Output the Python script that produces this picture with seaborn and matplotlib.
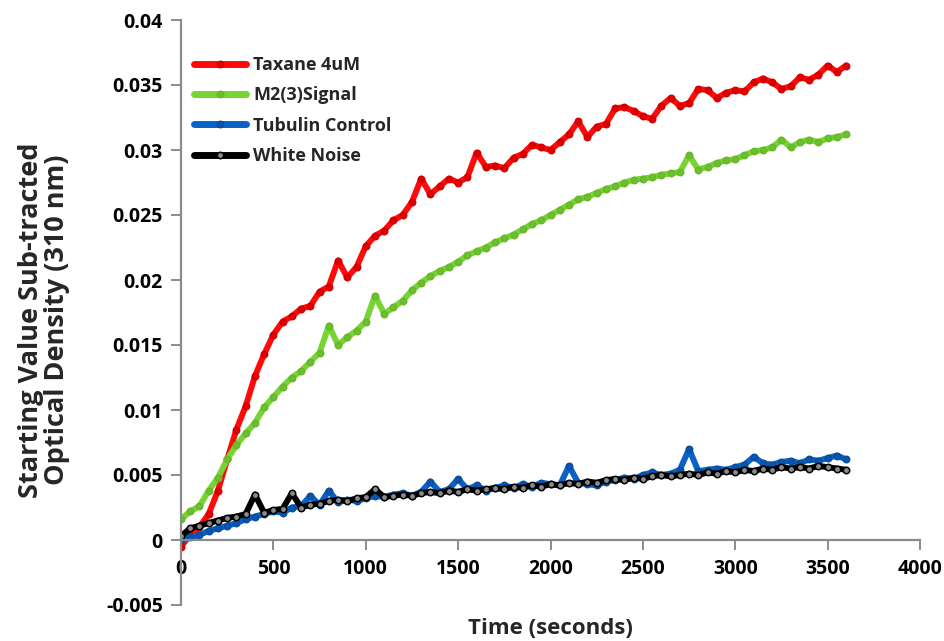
import numpy as np
import pandas as pd
import matplotlib
matplotlib.use("Agg")
import matplotlib.pyplot as plt
import seaborn as sns

# ---- data (optical density in milli-units, time in seconds) ----
time_s = list(range(0, 3601, 50))

taxane = [-0.5, 0.4, 1.0, 2.0, 3.8, 6.2, 8.5, 10.3, 12.6, 14.3, 15.8, 16.8, 17.2, 17.8,
          18.0, 19.1, 19.5, 21.5, 20.2, 21.0, 22.6, 23.4, 23.8, 24.6, 25.0, 26.0, 27.8,
          26.6, 27.2, 27.8, 27.5, 27.9, 29.8, 28.7, 28.8, 28.6, 29.4, 29.7, 30.4, 30.2,
          30.0, 30.6, 31.2, 32.2, 31.0, 31.8, 32.0, 33.2, 33.3, 33.0, 32.6, 32.4, 33.4,
          34.0, 33.4, 33.6, 34.7, 34.6, 34.0, 34.4, 34.6, 34.5, 35.2, 35.5, 35.2, 34.7,
          34.9, 35.6, 35.4, 35.8, 36.5, 36.0, 36.5]

m2_signal = [1.6, 2.2, 2.6, 3.8, 4.8, 6.2, 7.3, 8.2, 9.0, 10.2, 11.0, 11.8, 12.5, 13.0,
             13.7, 14.4, 16.5, 15.0, 15.6, 16.1, 16.8, 18.8, 17.4, 17.9, 18.4, 19.2, 19.8,
             20.3, 20.7, 21.0, 21.4, 21.9, 22.2, 22.5, 22.9, 23.2, 23.5, 23.9, 24.3, 24.6,
             25.0, 25.4, 25.8, 26.2, 26.4, 26.7, 27.0, 27.2, 27.5, 27.7, 27.8, 27.9, 28.1,
             28.2, 28.3, 29.6, 28.5, 28.7, 29.0, 29.2, 29.3, 29.6, 29.9, 30.0, 30.2, 30.8,
             30.2, 30.6, 30.8, 30.6, 30.9, 31.0, 31.2]

tubulin = [0.0, 0.2, 0.4, 0.7, 0.9, 1.1, 1.3, 1.6, 1.8, 2.0, 2.2, 2.1, 2.5, 2.6, 3.4,
           2.7, 3.8, 2.9, 3.1, 3.0, 3.2, 3.4, 3.3, 3.5, 3.6, 3.4, 3.7, 4.5, 3.7, 3.9, 4.7,
           3.9, 4.2, 3.8, 4.0, 4.2, 4.0, 4.3, 4.1, 4.4, 4.3, 4.2, 5.7, 4.4, 4.3, 4.2, 4.5,
           4.6, 4.8, 4.7, 5.0, 5.2, 5.0, 5.1, 5.4, 7.0, 5.3, 5.4, 5.5, 5.4, 5.6, 5.8, 6.4,
           5.9, 5.8, 6.0, 6.1, 5.9, 6.2, 6.1, 6.3, 6.5, 6.2]

white_noise = [0.3, 0.9, 1.1, 1.3, 1.5, 1.7, 1.8, 2.0, 3.5, 2.1, 2.3, 2.4, 3.6, 2.5, 2.7,
               2.8, 3.0, 3.1, 3.0, 3.2, 3.3, 3.9, 3.3, 3.4, 3.5, 3.4, 3.6, 3.7, 3.6, 3.8,
               3.7, 3.9, 3.8, 3.9, 4.0, 3.9, 4.1, 4.0, 4.2, 4.1, 4.3, 4.2, 4.4, 4.3, 4.5,
               4.4, 4.6, 4.7, 4.6, 4.8, 4.7, 4.9, 5.0, 4.9, 5.0, 5.1, 5.0, 5.2, 5.1, 5.3,
               5.2, 5.4, 5.3, 5.5, 5.4, 5.6, 5.5, 5.6, 5.5, 5.7, 5.6, 5.5, 5.4]

series_names = ["Taxane 4uM", "M2(3)Signal", "Tubulin Control", "White Noise"]
series_values = [taxane, m2_signal, tubulin, white_noise]

y_ticks = [-0.005, 0, 0.005, 0.01, 0.015, 0.02, 0.025, 0.03, 0.035, 0.04]
y_tick_labels = ["-0.005", "0", "0.005", "0.01", "0.015", "0.02", "0.025", "0.03", "0.035", "0.04"]
x_ticks = [0, 500, 1000, 1500, 2000, 2500, 3000, 3500, 4000]

# ---- styling ----
sns.set_theme(style="white")
plt.rcParams["font.family"] = ["Open Sans", "DejaVu Sans"]
plt.rcParams["font.weight"] = "bold"

colors = ["#FF0A0A", "#78D335", "#0A62C6", "#000000"]
face = ["#E00000", "#6CC02C", "#0A55B0", "#8A8A8A"]
edge = ["#D40000", "#66B82A", "#084E9E", "#000000"]

fig = plt.figure(figsize=(9.44, 6.41), dpi=100)
ax = fig.add_axes([181 / 944, 1 - 605 / 641, (920 - 181) / 944, (605 - 20) / 641])

for name, vals, c, fc, ec in zip(series_names, series_values, colors, face, edge):
    df = pd.DataFrame({"Time": time_s, "OD": np.array(vals) / 1000.0})
    sns.lineplot(data=df, x="Time", y="OD", ax=ax, color=c, lw=4.3,
                 marker="o", markersize=4.6, markerfacecolor=fc,
                 markeredgecolor=ec, markeredgewidth=1.1,
                 label=name, estimator=None, sort=False)

ax.set_xlim(0, 4000)
ax.set_ylim(-0.005, 0.04)
ax.set_xticks(x_ticks)
ax.set_xticklabels([str(t) for t in x_ticks])
ax.set_yticks(y_ticks)
ax.set_yticklabels(y_tick_labels)

for s in ["top", "right"]:
    ax.spines[s].set_visible(False)
spine_col = "#8C8C8C"
ax.spines["left"].set_color(spine_col)
ax.spines["bottom"].set_color(spine_col)
ax.spines["left"].set_linewidth(1.6)
ax.spines["bottom"].set_linewidth(1.6)
ax.spines["bottom"].set_position(("data", 0))

ax.tick_params(axis="both", which="major", direction="out", length=7, width=1.4,
               color=spine_col, labelsize=14, labelcolor="black")
ax.tick_params(axis="x", pad=7)
ax.tick_params(axis="y", pad=6)
ax.tick_params(axis="x", bottom=True)
ax.tick_params(axis="y", left=True)
for lab in ax.get_xticklabels() + ax.get_yticklabels():
    lab.set_fontweight("bold")

ax.set_xlabel("")
ax.set_ylabel("")
fig.text(550 / 944, 1 - 628 / 641, "Time (seconds)", ha="center", va="center",
         fontsize=16, fontweight="bold")
fig.text(44 / 944, 1 - 320 / 641, "Starting Value Sub-tracted\nOptical Density (310 nm)",
         ha="center", va="center", rotation=90, fontsize=19.5, fontweight="bold",
         linespacing=1.0)

leg = ax.legend(loc="upper left", bbox_to_anchor=(0.0, 0.96), frameon=False,
                fontsize=13, handlelength=2.9, handletextpad=0.4, labelspacing=0.68,
                borderaxespad=0.3)
for t in leg.get_texts():
    t.set_fontweight("bold")
for h in leg.get_lines():
    h.set_linewidth(5)

fig.savefig("out.png", dpi=100)
